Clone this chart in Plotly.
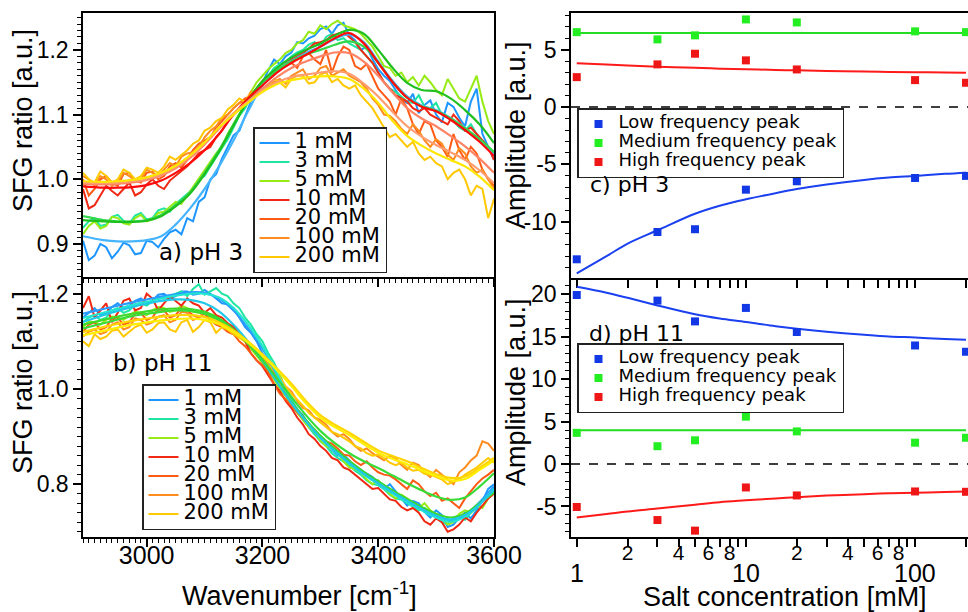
import math
import plotly.graph_objects as go

# ---------------- data: spectra (left panels) ----------------
CONC_LABELS = ["1 mM", "3 mM", "5 mM", "10 mM", "20 mM", "100 mM", "200 mM"]

WN_RAW = list(range(2890, 3610, 10))   # 2890 ... 3600 cm-1, 10 cm-1 step
WN_FIT = [2890, 2925, 2950, 2975, 3000, 3025, 3050, 3075, 3100, 3125, 3150, 3175, 3200,
          3225, 3250, 3275, 3300, 3325, 3350, 3375, 3400, 3425, 3450, 3475, 3500, 3525,
          3550, 3575, 3600]

# pH 3 raw spectra
PH3_RAW_1 = [0.905, 0.875, 0.882, 0.9, 0.895, 0.878, 0.888, 0.902, 0.898, 0.884,
             0.886, 0.905, 0.903, 0.895, 0.908, 0.918, 0.922, 0.915, 0.94, 0.935,
             0.965, 0.972, 1.0, 1.008, 1.032, 1.05, 1.068, 1.075, 1.098, 1.12,
             1.14, 1.15, 1.168, 1.185, 1.178, 1.19, 1.196, 1.212, 1.21, 1.218,
             1.222, 1.232, 1.236, 1.225, 1.238, 1.242, 1.222, 1.215, 1.2, 1.205,
             1.186, 1.17, 1.16, 1.152, 1.138, 1.125, 1.118, 1.132, 1.102, 1.115,
             1.122, 1.1, 1.088, 1.118, 1.112, 1.095, 1.082, 1.12, 1.14, 1.07,
             1.05, 1.03]
PH3_RAW_3 = [0.925, 0.935, 0.94, 0.928, 0.93, 0.942, 0.945, 0.936, 0.932, 0.944,
             0.948, 0.938, 0.94, 0.952, 0.955, 0.95, 0.962, 0.97, 0.978, 0.985,
             1.0, 1.005, 1.02, 1.035, 1.048, 1.062, 1.08, 1.098, 1.11, 1.128,
             1.14, 1.148, 1.16, 1.172, 1.178, 1.182, 1.19, 1.196, 1.2, 1.208,
             1.212, 1.205, 1.22, 1.225, 1.215, 1.218, 1.21, 1.205, 1.2, 1.19,
             1.18, 1.165, 1.15, 1.14, 1.135, 1.128, 1.12, 1.118, 1.13, 1.112,
             1.11, 1.118, 1.1, 1.095, 1.09, 1.08, 1.075, 1.085, 1.07, 1.06,
             1.05, 1.04]
PH3_RAW_5 = [0.915, 0.928, 0.935, 0.924, 0.928, 0.942, 0.94, 0.932, 0.93, 0.94,
             0.945, 0.935, 0.938, 0.948, 0.95, 0.958, 0.965, 0.962, 0.975, 0.988,
             1.0, 1.012, 1.025, 1.04, 1.05, 1.07, 1.085, 1.1, 1.115, 1.135,
             1.15, 1.16, 1.17, 1.178, 1.185, 1.195, 1.2, 1.21, 1.215, 1.228,
             1.225, 1.238, 1.232, 1.24, 1.245, 1.238, 1.235, 1.232, 1.225, 1.215,
             1.205, 1.19, 1.175, 1.172, 1.16, 1.165, 1.15, 1.158, 1.145, 1.16,
             1.15, 1.138, 1.13, 1.155, 1.14, 1.125, 1.12, 1.14, 1.16, 1.12,
             1.09, 1.07]
PH3_RAW_10 = [0.985, 0.955, 0.96, 0.975, 0.99, 0.982, 0.975, 0.985, 0.995, 0.975,
              0.98, 0.992, 1.0, 0.99, 0.985, 0.998, 1.005, 1.012, 1.02, 1.03,
              1.04, 1.045, 1.05, 1.065, 1.075, 1.09, 1.1, 1.108, 1.12, 1.13,
              1.14, 1.152, 1.16, 1.165, 1.17, 1.178, 1.185, 1.19, 1.195, 1.202,
              1.21, 1.212, 1.215, 1.222, 1.225, 1.228, 1.22, 1.212, 1.2, 1.19,
              1.18, 1.165, 1.15, 1.14, 1.13, 1.125, 1.12, 1.11, 1.105, 1.11,
              1.1, 1.095, 1.09, 1.085, 1.1, 1.09, 1.075, 1.08, 1.07, 1.06,
              1.05, 1.03]
PH3_RAW_20 = [1.0, 0.975, 0.985, 1.0, 1.005, 0.995, 0.99, 1.008, 1.01, 0.998,
              0.995, 1.01, 1.012, 1.0, 1.005, 1.02, 1.025, 1.018, 1.03, 1.045,
              1.055, 1.06, 1.065, 1.08, 1.09, 1.1, 1.11, 1.118, 1.125, 1.128,
              1.135, 1.148, 1.155, 1.162, 1.17, 1.175, 1.18, 1.172, 1.19, 1.195,
              1.185, 1.178, 1.2, 1.165, 1.19, 1.205, 1.2, 1.175, 1.17, 1.178,
              1.16, 1.14, 1.13, 1.12, 1.1, 1.125, 1.11, 1.085, 1.07, 1.09,
              1.085, 1.06, 1.05, 1.035, 1.07, 1.045, 1.03, 1.05, 1.04, 1.015,
              1.0, 0.99]
PH3_RAW_100 = [1.005, 1.0, 0.99, 1.005, 1.0, 0.99, 0.995, 1.01, 1.005, 0.998,
               1.0, 1.015, 1.01, 1.005, 1.015, 1.025, 1.02, 1.035, 1.04, 1.042,
               1.05, 1.065, 1.075, 1.082, 1.095, 1.1, 1.11, 1.118, 1.12, 1.135,
               1.13, 1.14, 1.145, 1.15, 1.155, 1.148, 1.16, 1.165, 1.17, 1.155,
               1.16, 1.172, 1.175, 1.16, 1.165, 1.17, 1.16, 1.155, 1.15, 1.14,
               1.125, 1.115, 1.1, 1.098, 1.09, 1.078, 1.07, 1.085, 1.075, 1.06,
               1.05, 1.062, 1.055, 1.038, 1.03, 1.048, 1.04, 1.02, 1.01, 1.015,
               1.0, 0.985]
PH3_RAW_200 = [1.01, 1.0, 0.995, 1.012, 1.005, 0.995, 1.0, 1.015, 1.01, 1.0,
               1.005, 1.018, 1.015, 1.01, 1.02, 1.035, 1.03, 1.038, 1.045, 1.055,
               1.06, 1.075, 1.08, 1.09, 1.095, 1.108, 1.115, 1.125, 1.12, 1.132,
               1.14, 1.135, 1.145, 1.155, 1.15, 1.142, 1.155, 1.16, 1.16, 1.148,
               1.15, 1.162, 1.165, 1.15, 1.155, 1.145, 1.14, 1.145, 1.13, 1.12,
               1.11, 1.095, 1.08, 1.065, 1.07, 1.06, 1.05, 1.058, 1.04, 1.03,
               1.035, 1.025, 1.02, 1.0, 1.01, 1.015, 1.0, 0.975, 0.99, 0.985,
               0.94, 0.97]

# pH 3 fits
PH3_FIT_1 = [0.912, 0.906, 0.904, 0.904, 0.906, 0.912, 0.93, 0.955, 0.985, 1.02, 1.06, 1.105, 1.145, 1.168, 1.183, 1.195, 1.205, 1.217, 1.224, 1.212, 1.182, 1.152, 1.128, 1.114, 1.107, 1.095, 1.079, 1.06, 1.038]
PH3_FIT_3 = [0.943, 0.937, 0.935, 0.935, 0.937, 0.945, 0.96, 0.98, 1.01, 1.045, 1.085, 1.122, 1.15, 1.168, 1.182, 1.193, 1.2, 1.208, 1.213, 1.205, 1.18, 1.15, 1.126, 1.113, 1.106, 1.094, 1.079, 1.062, 1.042]
PH3_FIT_5 = [0.937, 0.935, 0.934, 0.934, 0.936, 0.943, 0.958, 0.978, 1.008, 1.043, 1.083, 1.122, 1.152, 1.172, 1.188, 1.2, 1.21, 1.222, 1.231, 1.225, 1.2, 1.172, 1.149, 1.138, 1.136, 1.125, 1.107, 1.085, 1.056]
PH3_FIT_10 = [0.989, 0.987, 0.987, 0.988, 0.991, 0.998, 1.01, 1.025, 1.045, 1.07, 1.1, 1.125, 1.145, 1.165, 1.18, 1.192, 1.205, 1.218, 1.226, 1.21, 1.18, 1.15, 1.126, 1.112, 1.105, 1.092, 1.076, 1.058, 1.036]
PH3_FIT_20 = [0.993, 0.992, 0.993, 0.995, 0.999, 1.006, 1.017, 1.033, 1.054, 1.078, 1.101, 1.12, 1.14, 1.158, 1.172, 1.182, 1.19, 1.196, 1.195, 1.182, 1.16, 1.134, 1.11, 1.094, 1.082, 1.067, 1.051, 1.032, 1.01]
PH3_FIT_100 = [0.995, 0.994, 0.995, 0.997, 1.001, 1.008, 1.019, 1.035, 1.056, 1.08, 1.102, 1.12, 1.137, 1.15, 1.158, 1.162, 1.165, 1.167, 1.163, 1.148, 1.128, 1.104, 1.082, 1.066, 1.053, 1.042, 1.03, 1.014, 0.994]
PH3_FIT_200 = [0.997, 0.996, 0.997, 0.999, 1.003, 1.01, 1.021, 1.037, 1.057, 1.08, 1.1, 1.118, 1.135, 1.147, 1.153, 1.157, 1.159, 1.159, 1.155, 1.14, 1.118, 1.09, 1.067, 1.052, 1.04, 1.03, 1.02, 1.004, 0.983]

# pH 11 raw spectra
PH11_RAW_1 = [1.15, 1.16, 1.17, 1.155, 1.16, 1.172, 1.18, 1.17, 1.175, 1.185,
              1.19, 1.18, 1.185, 1.198, 1.2, 1.19, 1.195, 1.205, 1.205, 1.198,
              1.2, 1.208, 1.2, 1.19, 1.18, 1.178, 1.17, 1.15, 1.13, 1.118,
              1.1, 1.075, 1.055, 1.04, 1.02, 0.995, 0.97, 0.955, 0.945, 0.92,
              0.905, 0.9, 0.89, 0.872, 0.86, 0.862, 0.85, 0.832, 0.825, 0.822,
              0.815, 0.798, 0.79, 0.8, 0.785, 0.77, 0.755, 0.765, 0.76, 0.742,
              0.73, 0.745, 0.735, 0.71, 0.715, 0.73, 0.74, 0.728, 0.745, 0.765,
              0.79, 0.8]
PH11_RAW_3 = [1.14, 1.15, 1.155, 1.145, 1.15, 1.165, 1.17, 1.16, 1.165, 1.178,
              1.18, 1.175, 1.185, 1.192, 1.19, 1.195, 1.2, 1.205, 1.195, 1.21,
              1.22, 1.198, 1.205, 1.212, 1.2, 1.195, 1.18, 1.17, 1.15, 1.135,
              1.115, 1.1, 1.075, 1.055, 1.03, 1.0, 0.98, 0.955, 0.935, 0.92,
              0.905, 0.89, 0.88, 0.865, 0.855, 0.848, 0.84, 0.828, 0.82, 0.808,
              0.8, 0.798, 0.79, 0.778, 0.77, 0.768, 0.76, 0.752, 0.745, 0.75,
              0.74, 0.728, 0.72, 0.715, 0.73, 0.735, 0.725, 0.74, 0.75, 0.768,
              0.775, 0.79]
PH11_RAW_5 = [1.13, 1.142, 1.14, 1.135, 1.145, 1.152, 1.15, 1.145, 1.155, 1.162,
              1.16, 1.155, 1.165, 1.172, 1.17, 1.162, 1.165, 1.175, 1.17, 1.162,
              1.16, 1.158, 1.15, 1.148, 1.14, 1.128, 1.12, 1.11, 1.1, 1.085,
              1.07, 1.055, 1.04, 1.02, 1.0, 0.985, 0.965, 0.95, 0.935, 0.92,
              0.91, 0.892, 0.88, 0.875, 0.865, 0.848, 0.835, 0.832, 0.825, 0.81,
              0.8, 0.808, 0.795, 0.78, 0.77, 0.778, 0.77, 0.758, 0.75, 0.76,
              0.745, 0.735, 0.73, 0.715, 0.72, 0.738, 0.745, 0.74, 0.755, 0.75,
              0.77, 0.785]
PH11_RAW_10 = [1.17, 1.195, 1.15, 1.165, 1.18, 1.14, 1.16, 1.185, 1.19, 1.165,
               1.17, 1.2, 1.19, 1.165, 1.18, 1.195, 1.185, 1.175, 1.19, 1.18,
               1.175, 1.16, 1.17, 1.155, 1.15, 1.138, 1.13, 1.115, 1.1, 1.075,
               1.06, 1.048, 1.03, 1.01, 0.995, 0.975, 0.96, 0.94, 0.925, 0.905,
               0.895, 0.88, 0.87, 0.855, 0.85, 0.835, 0.83, 0.82, 0.81, 0.8,
               0.79, 0.792, 0.78, 0.768, 0.765, 0.752, 0.745, 0.75, 0.74, 0.722,
               0.715, 0.728, 0.72, 0.7, 0.705, 0.715, 0.73, 0.722, 0.74, 0.755,
               0.77, 0.78]
PH11_RAW_20 = [1.12, 1.135, 1.14, 1.125, 1.13, 1.148, 1.15, 1.135, 1.14, 1.158,
               1.16, 1.145, 1.15, 1.168, 1.165, 1.15, 1.155, 1.17, 1.165, 1.155,
               1.15, 1.158, 1.145, 1.135, 1.13, 1.12, 1.115, 1.1, 1.09, 1.075,
               1.06, 1.05, 1.035, 1.01, 0.99, 0.978, 0.965, 0.952, 0.94, 0.925,
               0.915, 0.9, 0.89, 0.885, 0.875, 0.862, 0.86, 0.848, 0.84, 0.848,
               0.835, 0.825, 0.82, 0.818, 0.81, 0.8, 0.79, 0.808, 0.8, 0.785,
               0.775, 0.782, 0.765, 0.77, 0.76, 0.75, 0.77, 0.785, 0.8, 0.812,
               0.82, 0.83]
PH11_RAW_100 = [1.11, 1.12, 1.125, 1.115, 1.12, 1.135, 1.14, 1.125, 1.13, 1.148,
                1.145, 1.135, 1.14, 1.152, 1.155, 1.14, 1.145, 1.162, 1.16, 1.145,
                1.15, 1.162, 1.155, 1.148, 1.14, 1.132, 1.12, 1.115, 1.105, 1.09,
                1.08, 1.068, 1.05, 1.035, 1.02, 1.005, 0.995, 0.975, 0.96, 0.955,
                0.94, 0.935, 0.925, 0.91, 0.9, 0.905, 0.895, 0.88, 0.87, 0.875,
                0.865, 0.858, 0.85, 0.86, 0.855, 0.84, 0.83, 0.845, 0.84, 0.825,
                0.815, 0.83, 0.82, 0.81, 0.8, 0.825, 0.835, 0.85, 0.86, 0.89,
                0.885, 0.87]
PH11_RAW_200 = [1.1, 1.09, 1.115, 1.105, 1.11, 1.122, 1.125, 1.11, 1.12, 1.13,
                1.135, 1.118, 1.125, 1.138, 1.14, 1.125, 1.12, 1.14, 1.145, 1.12,
                1.13, 1.145, 1.14, 1.118, 1.13, 1.125, 1.115, 1.108, 1.1, 1.09,
                1.075, 1.062, 1.05, 1.04, 1.025, 1.005, 0.99, 0.978, 0.965, 0.95,
                0.94, 0.93, 0.92, 0.91, 0.905, 0.898, 0.89, 0.88, 0.875, 0.865,
                0.86, 0.862, 0.855, 0.845, 0.84, 0.845, 0.835, 0.828, 0.83, 0.822,
                0.82, 0.815, 0.81, 0.8, 0.805, 0.81, 0.82, 0.828, 0.835, 0.845,
                0.855, 0.845]

# pH 11 fits
PH11_FIT_1 = [1.158, 1.168, 1.175, 1.182, 1.188, 1.194, 1.199, 1.203, 1.202, 1.19, 1.165, 1.128, 1.085, 1.03, 0.975, 0.935, 0.9, 0.872, 0.848, 0.826, 0.806, 0.785, 0.765, 0.748, 0.733, 0.724, 0.735, 0.762, 0.795]
PH11_FIT_3 = [1.149, 1.16, 1.168, 1.176, 1.183, 1.19, 1.196, 1.2, 1.2, 1.192, 1.17, 1.135, 1.09, 1.032, 0.975, 0.932, 0.897, 0.868, 0.843, 0.82, 0.8, 0.78, 0.762, 0.745, 0.73, 0.721, 0.732, 0.758, 0.79]
PH11_FIT_5 = [1.135, 1.145, 1.152, 1.158, 1.163, 1.167, 1.169, 1.168, 1.162, 1.148, 1.125, 1.095, 1.058, 1.015, 0.972, 0.935, 0.902, 0.874, 0.849, 0.826, 0.806, 0.787, 0.769, 0.752, 0.738, 0.73, 0.738, 0.76, 0.782]
PH11_FIT_10 = [1.141, 1.155, 1.164, 1.172, 1.179, 1.185, 1.188, 1.187, 1.18, 1.163, 1.135, 1.1, 1.06, 1.015, 0.97, 0.932, 0.898, 0.87, 0.845, 0.822, 0.802, 0.783, 0.765, 0.748, 0.734, 0.726, 0.735, 0.758, 0.788]
PH11_FIT_20 = [1.127, 1.138, 1.146, 1.153, 1.158, 1.162, 1.165, 1.164, 1.158, 1.145, 1.124, 1.097, 1.062, 1.022, 0.983, 0.945, 0.912, 0.886, 0.865, 0.848, 0.834, 0.818, 0.802, 0.787, 0.774, 0.767, 0.772, 0.795, 0.823]
PH11_FIT_100 = [1.12, 1.13, 1.137, 1.143, 1.148, 1.152, 1.155, 1.155, 1.151, 1.14, 1.123, 1.1, 1.073, 1.043, 1.011, 0.975, 0.945, 0.925, 0.908, 0.889, 0.871, 0.859, 0.848, 0.834, 0.821, 0.813, 0.816, 0.834, 0.855]
PH11_FIT_200 = [1.113, 1.122, 1.129, 1.135, 1.14, 1.144, 1.147, 1.148, 1.145, 1.136, 1.12, 1.098, 1.07, 1.04, 1.006, 0.97, 0.94, 0.92, 0.903, 0.884, 0.866, 0.853, 0.842, 0.829, 0.817, 0.808, 0.811, 0.83, 0.85]

# ---------------- data: amplitudes (right panels) ----------------
PEAK_LABELS = ["Low frequency peak", "Medium frequency peak", "High frequency peak"]
CONC = [1, 3, 5, 10, 20, 100, 200]
PH3_LOW = [-13.27, -10.89, -10.65, -7.2, -6.47, -6.18, -6.0]
PH3_MED = [6.53, 5.9, 6.25, 7.64, 7.38, 6.6, 6.53]
PH3_HIGH = [2.61, 3.72, 4.65, 4.07, 3.28, 2.35, 2.12]
PH11_LOW = [19.93, 19.27, 16.82, 18.41, 15.57, 13.98, 13.24]
PH11_MED = [3.68, 2.1, 2.8, 5.59, 3.85, 2.52, 3.1]
PH11_HIGH = [-5.06, -6.6, -7.85, -2.76, -3.7, -3.23, -3.27]

FIT_CONC = [1, 1.5, 2, 3, 5, 7, 10, 15, 20, 30, 50, 70, 100, 150, 200]
PH3_LOW_FIT = [-14.5, -13.0, -11.9, -10.74, -9.3, -8.6, -8.04, -7.5, -7.15, -6.75, -6.35, -6.15, -6.0, -5.82, -5.72]
PH3_HIGH_FIT = [3.81, 3.7, 3.62, 3.52, 3.42, 3.35, 3.3, 3.24, 3.2, 3.15, 3.09, 3.06, 3.04, 3.02, 3.0]
PH11_LOW_FIT = [20.9, 20.2, 19.6, 18.7, 17.65, 17.15, 16.75, 16.25, 15.95, 15.6, 15.25, 15.05, 14.92, 14.75, 14.65]
PH11_HIGH_FIT = [-6.3, -5.9, -5.6, -5.25, -4.8, -4.5, -4.28, -4.05, -3.9, -3.72, -3.55, -3.45, -3.38, -3.3, -3.25]
MED_FIT_CONC = [1, 200]
PH3_MED_FIT = [6.45, 6.45]
PH11_MED_FIT = [4.0, 4.0]

# tick labels
LOG_TICK_VALS = [1, 2, 3, 4, 5, 6, 7, 8, 9, 10, 20, 30, 40, 50, 60, 70, 80, 90, 100, 200]
LOG_TICK_TEXT = ["", "2", "", "4", "", "6", "", "8", "", "", "2", "", "4", "", "6", "", "8", "", "", "2"]
LOG_MAJOR_VALS = [1, 10, 100]
LOG_MAJOR_TEXT = ["1", "10", "100"]
AMP3_TICKS = [-10, -5, 0, 5]
AMP11_TICKS = [-5, 0, 5, 10, 15, 20]

# ---------------- styling ----------------
RAW3_COLORS = ["#1E96FF", "#1EE6A0", "#96EB14", "#F02814", "#FF5A14", "#FF8C1E", "#FFC800"]
FIT3_COLORS = ["#45B4FF", "#33D84A", "#1FBF1F", "#FF0A0A", "#FF8466", "#FF9C70", "#FFE600"]
RAW11_COLORS = ["#1E96FF", "#1EE6A0", "#96EB14", "#F02814", "#FF5A14", "#FF8C1E", "#FFC800"]
FIT11_COLORS = ["#2A9CFF", "#22E6D0", "#3CD82A", "#20C8E8", "#38DC38", "#FFD400", "#FFEE00"]
PEAK_COLORS = ["#1238E6", "#22EE22", "#EE1616"]
FITLINE_COLORS = ["#1A40F0", "#22DD22", "#FF1A1A"]

W, H = 968, 612
def fx(p):
    return p / W
def fy(p):
    return 1 - p / H

AX_FONT = "Liberation Sans, Arial, sans-serif"
LBL_FONT = "DejaVu Sans, sans-serif"

fig = go.Figure()

raw3 = [PH3_RAW_1, PH3_RAW_3, PH3_RAW_5, PH3_RAW_10, PH3_RAW_20, PH3_RAW_100, PH3_RAW_200]
fit3 = [PH3_FIT_1, PH3_FIT_3, PH3_FIT_5, PH3_FIT_10, PH3_FIT_20, PH3_FIT_100, PH3_FIT_200]
raw11 = [PH11_RAW_1, PH11_RAW_3, PH11_RAW_5, PH11_RAW_10, PH11_RAW_20, PH11_RAW_100, PH11_RAW_200]
fit11 = [PH11_FIT_1, PH11_FIT_3, PH11_FIT_5, PH11_FIT_10, PH11_FIT_20, PH11_FIT_100, PH11_FIT_200]

def leg_name(t, size):
    return '<span style="font-size:%dpx">%s</span>' % (size, t)

for raws, fits, rc, fc, xa, ya, lg in [
        (raw3, fit3, RAW3_COLORS, FIT3_COLORS, "x", "y", "legend"),
        (raw11, fit11, RAW11_COLORS, FIT11_COLORS, "x2", "y2", "legend2")]:
    for i, lab in enumerate(CONC_LABELS):
        fig.add_trace(go.Scatter(x=WN_RAW, y=raws[i], mode="lines",
                                 line=dict(color=rc[i], width=2.0),
                                 name=leg_name(lab, 21), legend=lg,
                                 xaxis=xa, yaxis=ya))
    for i, lab in enumerate(CONC_LABELS):
        fig.add_trace(go.Scatter(x=WN_FIT, y=fits[i], mode="lines",
                                 line=dict(color=fc[i], width=2.2, shape="spline"),
                                 showlegend=False, xaxis=xa, yaxis=ya))

for pts, fitsets, xa, ya, lg in [
        ([PH3_LOW, PH3_MED, PH3_HIGH],
         [(FIT_CONC, PH3_LOW_FIT), (MED_FIT_CONC, PH3_MED_FIT), (FIT_CONC, PH3_HIGH_FIT)],
         "x3", "y3", "legend3"),
        ([PH11_LOW, PH11_MED, PH11_HIGH],
         [(FIT_CONC, PH11_LOW_FIT), (MED_FIT_CONC, PH11_MED_FIT), (FIT_CONC, PH11_HIGH_FIT)],
         "x4", "y4", "legend4")]:
    for k in range(3):
        fig.add_trace(go.Scatter(x=fitsets[k][0], y=fitsets[k][1], mode="lines",
                                 line=dict(color=FITLINE_COLORS[k], width=2, shape="spline"),
                                 showlegend=False, xaxis=xa, yaxis=ya))
    for k in range(3):
        fig.add_trace(go.Scatter(x=CONC, y=pts[k], mode="markers",
                                 marker=dict(symbol="square", size=8, color=PEAK_COLORS[k]),
                                 name=leg_name(PEAK_LABELS[k], 18), legend=lg,
                                 xaxis=xa, yaxis=ya))

tickfont = dict(family=AX_FONT, size=23, color="black")
base = dict(showline=True, linecolor="black", linewidth=1.5, ticks="outside",
            tickcolor="black", tickwidth=1.5, ticklen=8, showgrid=False,
            zeroline=False, tickfont=tickfont, automargin=False)

def minor(dt, t0=0, mode="linear"):
    return dict(ticks="outside", ticklen=4, tickwidth=1, tickcolor="black",
                showgrid=False, dtick=dt, tick0=t0, tickmode=mode)

LX = [fx(83), fx(494)]
RX = [fx(571), 1.0]

fig.update_layout(
    width=W, height=H, autosize=False, margin=dict(l=0, r=0, t=0, b=0, pad=0),
    paper_bgcolor="white", plot_bgcolor="white", showlegend=True,
    xaxis=dict(base, domain=LX, range=[2890, 3600], anchor="y", mirror=True,
               dtick=200, tick0=3000, showticklabels=False, minor=minor(10)),
    yaxis=dict(base, domain=[fy(277), fy(13)], range=[0.849, 1.257], anchor="x",
               mirror=True, dtick=0.1, tick0=0, tickformat=".1f", minor=minor(0.01)),
    xaxis2=dict(base, domain=LX, range=[2890, 3600], anchor="y2", mirror=True,
                dtick=200, tick0=3000, minor=minor(10), ticklabelstandoff=-13,
                tickfont=dict(family=AX_FONT, size=25, color="black")),
    yaxis2=dict(base, domain=[fy(537), fy(279)], range=[0.689, 1.231], anchor="x2",
                mirror=True, dtick=0.2, tick0=0, tickformat=".1f", minor=minor(0.02)),
    xaxis3=dict(base, type="log", domain=RX, range=[-0.034, 2.313], anchor="y3",
                mirror=True, tickmode="array", tickvals=LOG_TICK_VALS,
                ticktext=LOG_TICK_TEXT, showticklabels=False),
    yaxis3=dict(base, domain=[fy(278), fy(13)], range=[-14.9, 8.2], anchor="x3",
                tickmode="array", tickvals=AMP3_TICKS,
                ticktext=[str(v) for v in AMP3_TICKS], minor=minor(1)),
    xaxis4=dict(base, type="log", domain=RX, range=[-0.034, 2.313], anchor="y4",
                mirror=True, tickmode="array", tickvals=LOG_TICK_VALS,
                ticktext=LOG_TICK_TEXT, ticklabelstandoff=-12,
                tickfont=dict(family=AX_FONT, size=21, color="black")),
    yaxis4=dict(base, domain=[fy(537), fy(280)], range=[-8.6, 21.7], anchor="x4",
                tickmode="array", tickvals=AMP11_TICKS,
                ticktext=[str(v) for v in AMP11_TICKS], minor=minor(1)),
)

legend_common = dict(xanchor="left", yanchor="top", bgcolor="white",
                     bordercolor="#222222", borderwidth=1.5, tracegroupgap=0,
                     itemwidth=30, traceorder="normal")
fig.update_layout(
    legend=dict(legend_common, x=fx(253), y=fy(127),
                font=dict(family=LBL_FONT, size=12, color="black")),
    legend2=dict(legend_common, x=fx(142), y=fy(384),
                 font=dict(family=LBL_FONT, size=12, color="black")),
    legend3=dict(legend_common, x=fx(577), y=fy(108),
                 font=dict(family=LBL_FONT, size=10, color="black")),
    legend4=dict(legend_common, x=fx(577), y=fy(343),
                 font=dict(family=LBL_FONT, size=10, color="black")),
)

# dashed zero lines
for xa, ya in [("x3", "y3"), ("x4", "y4")]:
    fig.add_shape(type="line", xref=xa + " domain", yref=ya, x0=0, x1=1, y0=0, y1=0,
                  line=dict(color="black", width=1.5, dash="dash"), layer="below")

ann = []
def add_text(text, x, y, size, family, xanchor="center", angle=0):
    ann.append(dict(text=text, x=x, y=y, xref="paper", yref="paper", showarrow=False,
                    xanchor=xanchor, yanchor="middle", textangle=angle,
                    font=dict(family=family, size=size, color="black")))

add_text("SFG ratio [a.u.]", fx(23), fy(121), 27, AX_FONT, angle=-90)
add_text("SFG ratio [a.u.]", fx(23), fy(383), 27, AX_FONT, angle=-90)
add_text("Amplitude [a.u.]", fx(516), fy(135), 27, AX_FONT, angle=-90)
add_text("Amplitude [a.u.]", fx(516), fy(392), 27, AX_FONT, angle=-90)
add_text("Wavenumber [cm<sup>-1</sup>]", fx(299), fy(594), 27, AX_FONT)
add_text("Salt concentration [mM]", fx(785), fy(597), 27, AX_FONT)
add_text("a) pH 3", fx(157), fy(252), 23, LBL_FONT, xanchor="left")
add_text("b) pH 11", fx(111), fy(363), 23, LBL_FONT, xanchor="left")
add_text("c) pH 3", fx(588), fy(184), 22, LBL_FONT, xanchor="left")
add_text("d) pH 11", fx(587), fy(333), 22, LBL_FONT, xanchor="left")

for v, t in zip(LOG_MAJOR_VALS, LOG_MAJOR_TEXT):
    ann.append(dict(text=t, x=math.log10(v), y=fy(573), xref="x4", yref="paper",
                    showarrow=False, xanchor="center", yanchor="middle",
                    font=dict(family=AX_FONT, size=25, color="black")))

fig.update_layout(annotations=ann)

POST = (
    "document.documentElement.style.overflow='hidden';"
    "document.body.style.margin='0px';"
    "document.body.style.overflow='hidden';"
)
fig.write_html("out.html",
               config={"displayModeBar": False, "responsive": False},
               post_script=POST)
